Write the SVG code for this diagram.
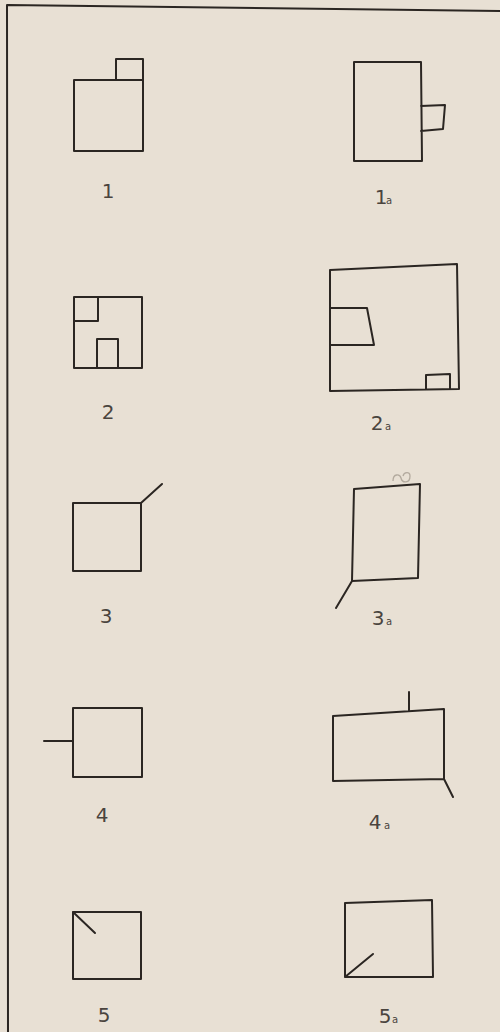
<svg xmlns="http://www.w3.org/2000/svg" width="500" height="1032" viewBox="0 0 500 1032">
<style>
.ln{fill:none;stroke:#2b2622;stroke-width:2;stroke-linejoin:round;stroke-linecap:round}
.lbl{font-family:"DejaVu Sans","Liberation Sans",sans-serif;font-size:20px;fill:#4a443e;text-anchor:middle}
.sub{font-family:"DejaVu Sans","Liberation Sans",sans-serif;font-size:10px;fill:#4a443e}
</style>
<rect width="500" height="1032" fill="#e8e0d4"/>
<g id="frame">
<path class="ln" d="M500,11 L7,5 L8,1032" stroke-width="2.4"/>
</g>
<g id="fig1">
<path class="ln" d="M74,80 H143 V151 H74 Z M116,80 V59 H143 V80"/>
<text class="lbl" x="108" y="198">1</text>
</g>
<g id="fig1a">
<path class="ln" d="M354,62 L421,62 L422,161 L354,161 Z M421,106 L445,105 L443,129 L421,131"/>
<text class="lbl" x="381" y="204" font-size="18">1</text><text class="sub" x="386" y="204">a</text>
</g>
<g id="fig2">
<path class="ln" d="M74,297 H142 V368 H74 Z M74,321 H98 V297 M97,368 V339 H118 V368"/>
<text class="lbl" x="108" y="419">2</text>
</g>
<g id="fig2a">
<path class="ln" d="M330,270 L457,264 L459,389 L330,391 Z M330,308 L367,308 L374,345 L330,345 M426,389 L426,375 L450,374 L450,389"/>
<text class="lbl" x="377" y="430">2</text><text class="sub" x="385" y="430">a</text>
</g>
<g id="fig3">
<path class="ln" d="M73,503 H141 V571 H73 Z M141,503 L162,484"/>
<text class="lbl" x="106" y="623">3</text>
</g>
<g id="fig3a">
<path class="ln" d="M354,489 L420,484 L418,578 L352,581 Z M352,581 L336,608"/>
<path d="M393,481 C393,473 400,474 401,478 C402,483 410,484 410,476 C410,471 404,472 403,476" fill="none" stroke="#b3aa9e" stroke-width="1.3"/>
<text class="lbl" x="378" y="625">3</text><text class="sub" x="386" y="625">a</text>
</g>
<g id="fig4">
<path class="ln" d="M73,708 H142 V777 H73 Z M44,741 H73"/>
<text class="lbl" x="102" y="822">4</text>
</g>
<g id="fig4a">
<path class="ln" d="M333,716 L444,709 L444,779 L333,781 Z M409,711 V692 M444,779 L453,797"/>
<text class="lbl" x="375" y="829">4</text><text class="sub" x="384" y="829">a</text>
</g>
<g id="fig5">
<path class="ln" d="M73,912 H141 V979 H73 Z M73,912 L95,933"/>
<text class="lbl" x="104" y="1022">5</text>
</g>
<g id="fig5a">
<path class="ln" d="M345,903 L432,900 L433,977 L345,977 Z M345,977 L373,954"/>
<text class="lbl" x="385" y="1023">5</text><text class="sub" x="392" y="1023">a</text>
</g>
</svg>
